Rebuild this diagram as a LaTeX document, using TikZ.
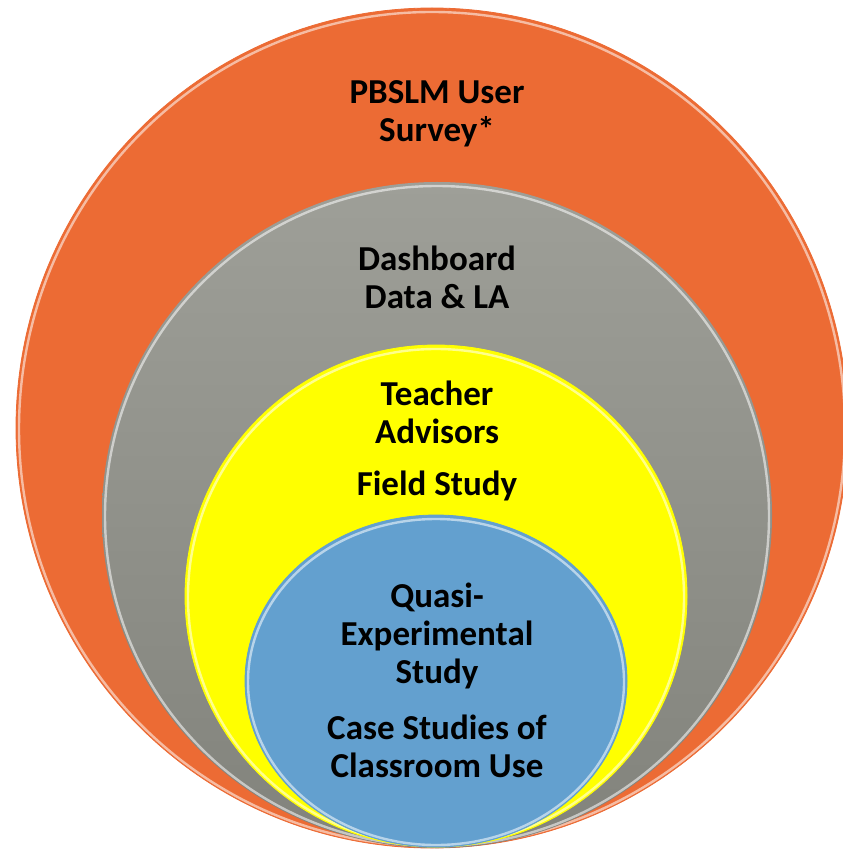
\documentclass[tikz,border=0pt]{standalone}
\usepackage{fontspec}
\setmainfont{Carlito}
\usepackage{tikz}
\usepackage{color}

\definecolor{surveyorange}{RGB}{236,107,52}
\definecolor{dashgraytop}{RGB}{158,159,152}
\definecolor{dashgraybottom}{RGB}{130,131,124}
\definecolor{fieldyellow}{RGB}{255,255,0}
\definecolor{caseblue}{RGB}{99,160,207}

\begin{document}
\begin{tikzpicture}[%
      x=0.5pt, y=-0.5pt,
      ringtext/.style={font=\bfseries\fontsize{17.5}{19}\selectfont, align=center, text=black},
      rim/.style={color=white, opacity=0.55, line width=1.2pt},
      ]
      \useasboundingbox (0,0) rectangle (842,849);

      % outer ring: user survey
      \filldraw [color=surveyorange] (432,428) ellipse (416 and 420);
      \draw [rim] (432,429) ellipse (413 and 417);

      % dashboard ring
      \shade [top color=dashgraytop, bottom color=dashgraybottom] (437,515) ellipse (335 and 333);
      \draw [rim] (437,516) ellipse (332 and 330);

      % field study ring
      \filldraw [color=fieldyellow] (436,596) ellipse (251 and 251);
      \draw [rim] (436,597) ellipse (248 and 248);

      % innermost: case studies
      \filldraw [color=caseblue] (436,681) ellipse (191 and 166);
      \draw [rim] (436,682) ellipse (188 and 163);

      \node [ringtext] (survey) at (437,114) {PBSLM User\\Survey*};
      \node [ringtext] (dashboard) at (437,277) {Dashboard\\Data \& LA};
      \node [ringtext] (advisors) at (437,412) {Teacher\\Advisors};
      \node [ringtext] (field) at (437,486) {Field Study};
      \node [ringtext] (quasi) at (437,636) {Quasi-\\Experimental\\Study};
      \node [ringtext] (cases) at (437,746) {Case Studies of\\Classroom Use};
\end{tikzpicture}
\end{document}
